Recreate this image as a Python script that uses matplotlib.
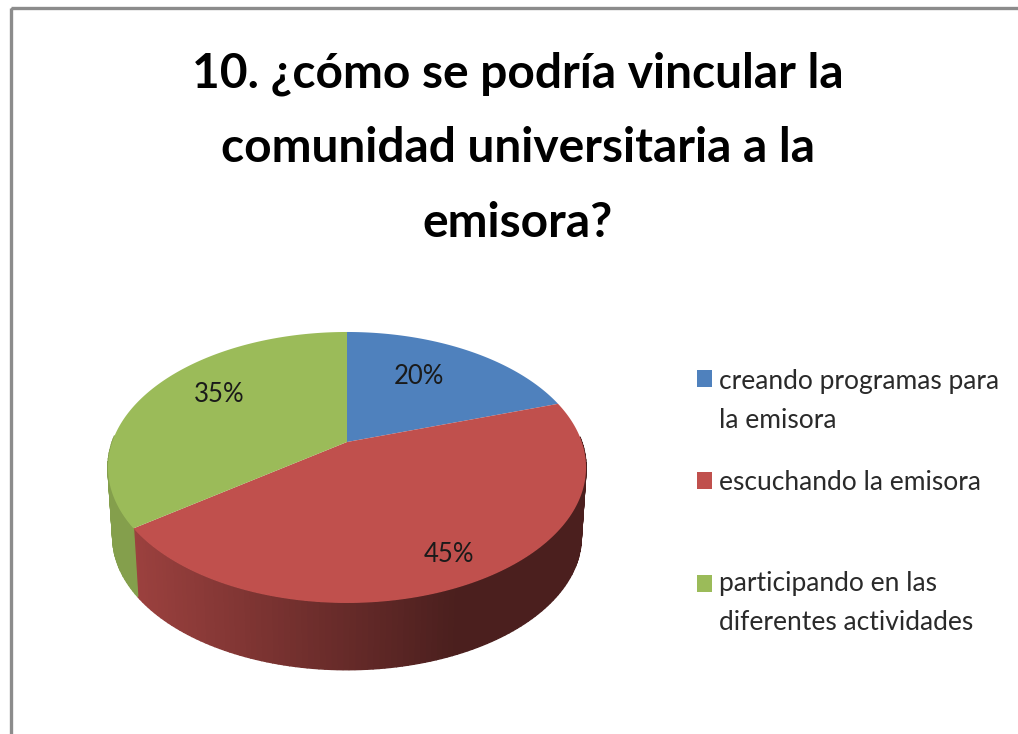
import numpy as np
import matplotlib.pyplot as plt
from matplotlib.patches import Rectangle

plt.rcParams['font.family'] = ['Lato', 'DejaVu Sans']

# chart data
title_lines = ['10. ¿cómo se podría vincular la', 'comunidad universitaria a la', 'emisora?']
categories = ['creando programas para\nla emisora', 'escuchando la emisora',
              'participando en las\ndiferentes actividades']
values = [20, 45, 35]
colors = ['#4f81bd', '#c0504d', '#9bbb59']

# where things sit, in picture pixels
label_pos = [(419, 377), (449, 554), (219, 395)]
legend_y = [370, 472, 575]
legend_text_y = [(381, 421), (483,), (584, 623)]
title_y = [74, 148, 223]


def rim(theta, lower=False):
    # circle seen in perspective, top face or the bottom edge of the wall
    w = 1 + 0.188 * np.sin(theta)
    scale = 0.98 if lower else 1.0
    y0 = 512 if lower else 442
    return 347 + scale * 234.8 * np.cos(theta) / w, y0 - scale * 130.7 * np.sin(theta) / w


def shade(color, factor):
    rgb = np.array(plt.matplotlib.colors.to_rgb(color))
    return tuple(rgb * factor)


fig = plt.figure(figsize=(10.18, 7.34), dpi=100)
ax = fig.add_axes([0, 0, 1, 1])
ax.set_xlim(0, 1018)
ax.set_ylim(734, 0)
ax.axis('off')

# grey chart border, cut off at right and bottom of the picture
ax.add_patch(Rectangle((11.5, 7.5), 1100, 1000, fill=False, ec='#8c8c8c', lw=2.4))

# slice angles, clockwise from 12 o'clock
edges = 90 - np.cumsum([0] + values) * 3.6

# side wall first, only the front part of the rim shows
for i in range(len(values)):
    steps = np.linspace(edges[i], edges[i + 1], max(2, values[i] * 3))
    for a, b in zip(steps[:-1], steps[1:]):
        ta, tb = np.radians(a), np.radians(b)
        if np.sin((ta + tb) / 2) > 0.05:
            continue
        xa, ya = rim(ta)
        xb, yb = rim(tb)
        xc, yc = rim(tb, lower=True)
        xd, yd = rim(ta, lower=True)
        if categories[i].startswith('participando'):
            f = 0.85
        else:
            t = np.clip(((xa + xb) / 2 - 133) / (455 - 133), 0, 1)
            f = 0.81 - 0.42 * t
        c = shade(colors[i], f)
        ax.fill([xa, xb, xc, xd], [ya, yb, yc, yd], fc=c, ec=c, lw=1.0)

# top face
for i in range(len(values)):
    t = np.radians(np.linspace(edges[i], edges[i + 1], 200))
    x, y = rim(t)
    ax.fill(np.r_[347, x], np.r_[442, y], color=colors[i], lw=0)

for (x, y), v in zip(label_pos, values):
    ax.text(x, y, f'{v}%', ha='center', va='center', fontsize=18.5, color='#1a1a1a')

# title
for line, y in zip(title_lines, title_y):
    ax.text(518, y, line, ha='center', va='center', fontsize=34.5, fontweight='bold', color='black')

# legend
for i, name in enumerate(categories):
    ax.add_patch(Rectangle((697, legend_y[i]), 15, 17, fc=colors[i], ec='none'))
    for line, y in zip(name.split('\n'), legend_text_y[i]):
        ax.text(719, y, line, ha='left', va='center', fontsize=19, color='#2a2a2a')

fig.savefig('out.png', dpi=100)
